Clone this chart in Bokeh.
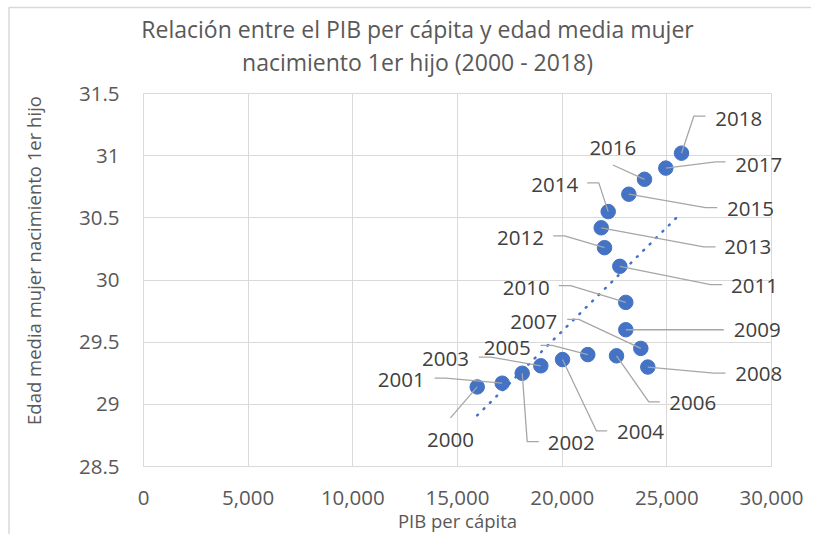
import numpy as np
from bokeh.plotting import figure
from bokeh.models import Range1d, FixedTicker, ColumnDataSource
from bokeh.core.properties import value
from bokeh.embed import file_html
from bokeh.resources import INLINE

# ---------------- data ----------------
years = ["2000", "2001", "2002", "2003", "2004", "2005", "2006", "2007", "2008", "2009",
         "2010", "2011", "2012", "2013", "2014", "2015", "2016", "2017", "2018"]
pib_per_capita = [15941, 17136, 18091, 18980, 20016, 21225, 22596, 23757, 24091, 23040,
                  23040, 22754, 22023, 21865, 22199, 23184, 23934, 24951, 25701]
edad_media = [29.14, 29.17, 29.25, 29.31, 29.36, 29.40, 29.39, 29.45, 29.30, 29.60,
              29.82, 30.11, 30.26, 30.42, 30.55, 30.69, 30.81, 30.90, 31.02]

x_ticks = [0, 5000, 10000, 15000, 20000, 25000, 30000]
x_tick_labels = ["0", "5,000", "10,000", "15,000", "20,000", "25,000", "30,000"]
y_ticks = [28.5, 29, 29.5, 30, 30.5, 31, 31.5]
y_tick_labels = ["28.5", "29", "29.5", "30", "30.5", "31", "31.5"]

title_lines = ["Relación entre el PIB per cápita y edad media mujer",
               "nacimiento 1er hijo (2000 - 2018)"]
x_title = "PIB per cápita"
y_title = "Edad media mujer nacimiento 1er hijo"

# ---------------- label layout (pixel offsets from each point, screen y down) ----------------
text_dx = [-26.7, -101, 49, -95.3, 78, -80.6, 76.3, -107, 111, 131.4, -99.6, 134.7, -84, 146.6, -53.4, 121.7, -31.7, 93, 57.3]
text_dy = [52.6, -3.3, 69.4, -7, 72.4, -7, 47, -26.6, 7, 0, -14, 20, -9.4, 19, -27, 15, -31, -3, -34.3]
lead_sdx = [-26.7, -67.7, 16.6, -62, 44.7, -47.3, 43.3, -73.6, 77.7, 98, -67, 102.4, -51.3, 114.3, -21, 88.4, -31.7, 59.7, 24]
lead_sdy = [31, -5, 68.4, -8.7, 71.4, -9.3, 46, -29, 6, 0, -16.7, 18.3, -11.7, 19, -28.7, 13.4, -14.3, -6.3, -37]
lead_edx = [-26.7, -56.7, 5, -50.3, 34, -35.6, 32.3, -62, 66, 98, -55.3, 90.7, -40, 102.6, -9.4, 76.7, -31.7, 49.7, 12.3]
lead_edy = [31, -5, 68.4, -8.7, 71.4, -9.3, 46, -29, 6, 0, -16.7, 18.3, -11.7, 19, -28.7, 13.4, -14.3, -6.3, -37]

# title / y-title placement: pixel offsets from the top-left corner of the plot area
title_dx = [274, 274]
title_dy = [-65, -32]
ytitle_dx = -110
ytitle_dy = 167
# chart-area border: pixel offsets of its left and top edges from the plot area
border_left_px = -134.5
border_top_px = -86

FW, FH = 628, 373
X0, X1 = 0, 30000
Y0, Y1 = 28.5, 31.5
ux = (X1 - X0) / FW
uy = (Y1 - Y0) / FH

FONT = "Open Sans"
GRID = "#d9d9d9"

p = figure(frame_width=FW, frame_height=FH,
           x_range=Range1d(X0, X1), y_range=Range1d(Y0, Y1),
           output_backend="svg", toolbar_location=None,
           min_border_left=143, min_border_right=40,
           min_border_top=93, min_border_bottom=65)
p.background_fill_color = "white"
p.border_fill_color = "white"
p.outline_line_color = GRID
p.outline_line_width = 1

# axes
p.xaxis.ticker = FixedTicker(ticks=x_ticks)
p.yaxis.ticker = FixedTicker(ticks=y_ticks)
p.xaxis.major_label_overrides = {t: l for t, l in zip(x_ticks, x_tick_labels)}
p.yaxis.major_label_overrides = {t: l for t, l in zip(y_ticks, y_tick_labels)}
for ax in (p.xaxis, p.yaxis):
    ax.major_tick_line_color = None
    ax.minor_tick_line_color = None
    ax.major_label_text_font = FONT
    ax.major_label_text_font_size = "20.5px"
    ax.major_label_text_color = "#595959"
p.xaxis.axis_line_color = GRID
p.yaxis.axis_line_color = None
p.xaxis.major_label_standoff = 18
p.yaxis.major_label_standoff = 18
p.xaxis.axis_label = x_title
p.xaxis.axis_label_text_font = FONT
p.xaxis.axis_label_text_font_size = "18.5px"
p.xaxis.axis_label_text_font_style = "normal"
p.xaxis.axis_label_text_color = "#595959"
p.xaxis.axis_label_standoff = 0

p.xgrid.ticker = FixedTicker(ticks=x_ticks)
p.ygrid.ticker = FixedTicker(ticks=y_ticks)
p.xgrid.grid_line_color = GRID
p.ygrid.grid_line_color = GRID

# trendline (linear least squares)
coef = np.polyfit(pib_per_capita, edad_media, 1)
tx = [min(pib_per_capita), max(pib_per_capita)]
ty = list(np.polyval(coef, tx))
p.line(tx, ty, line_color="#4472C4", line_width=2.5, line_dash="1 8", line_cap="round")

# markers
p.scatter(pib_per_capita, edad_media, size=14.5, marker="circle",
          fill_color="#4472C4", line_color="#4472C4")

# leader lines
lx, ly = [], []
for i in range(len(years)):
    x, y = pib_per_capita[i], edad_media[i]
    lx.append([x + lead_sdx[i] * ux, x + lead_edx[i] * ux, x])
    ly.append([y - lead_sdy[i] * uy, y - lead_edy[i] * uy, y])
p.multi_line(lx, ly, line_color="#a6a6a6", line_width=1.3)

# data labels
src = ColumnDataSource(dict(x=pib_per_capita, y=edad_media, t=years, dx=text_dx, dy=text_dy))
p.text(x="x", y="y", text="t", x_offset="dx", y_offset="dy", source=src,
       text_align="center", text_baseline="middle",
       text_font=value(FONT), text_font_size="20.5px", text_color="#404040",
       level="overlay")

# chart title (two lines) and vertical axis title
p.text(x=[X0, X0], y=[Y1, Y1], text=title_lines, x_offset=title_dx, y_offset=title_dy,
       text_align="center", text_baseline="middle",
       text_font=value(FONT), text_font_size="23px", text_color="#595959",
       level="overlay")
p.text(x=[X0], y=[Y1], text=[y_title], x_offset=[ytitle_dx], y_offset=[ytitle_dy],
       angle=np.pi / 2, text_align="center", text_baseline="middle",
       text_font=value(FONT), text_font_size="18.5px", text_color="#595959",
       level="overlay")

# chart-area border (left and top edges; the others lie outside the picture)
bx_left = X0 + border_left_px * ux
by_top = Y1 - border_top_px * uy
p.line([bx_left, bx_left, X1 * 1.5], [Y0 - 1.0, by_top, by_top],
       line_color=GRID, line_width=1.5, level="overlay")

open("out.html", "w").write(file_html(p, INLINE))
